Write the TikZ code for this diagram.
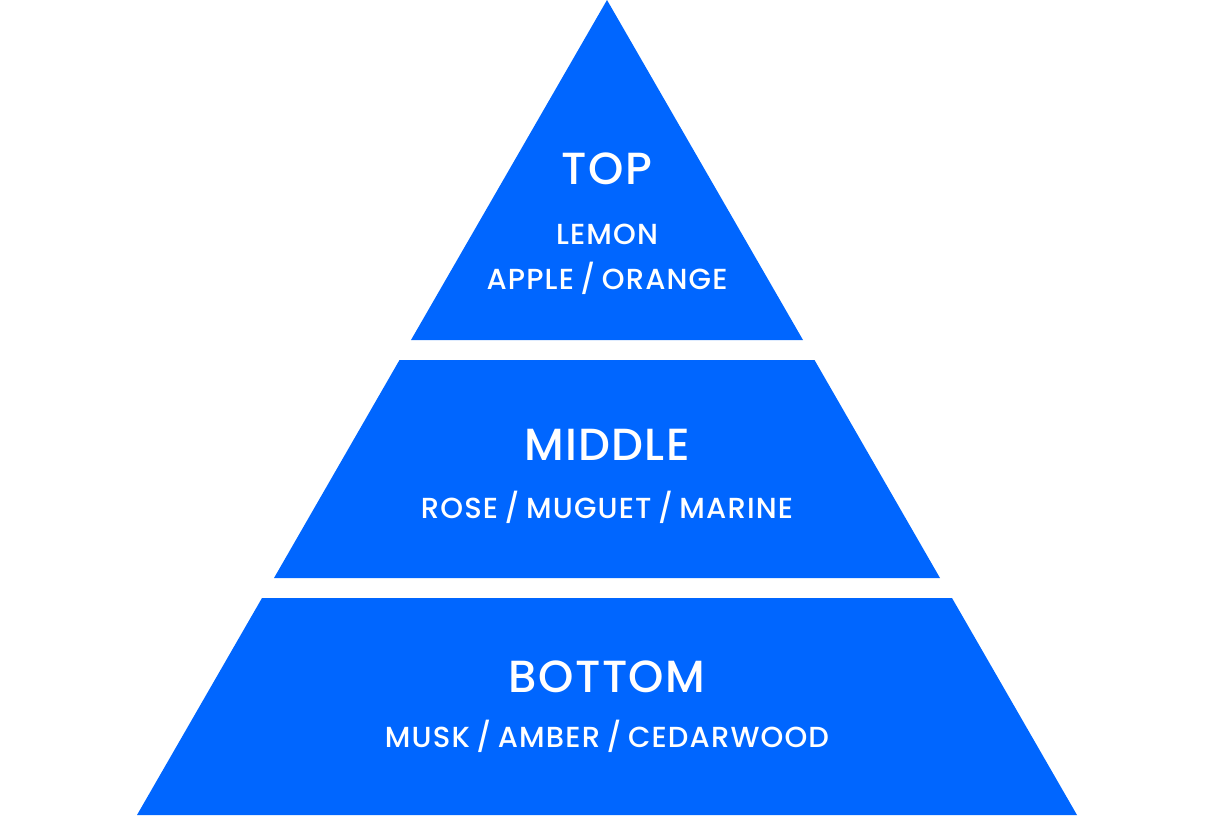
\documentclass[tikz,border=0pt]{standalone}
\usepackage{fontspec}
\setmainfont{Poppins}[UprightFont={* Medium}]
\newfontfamily\headfont{Poppins}[UprightFont={* Medium},LetterSpace=3]
\newfontfamily\notesfont{Poppins}[UprightFont={* Medium},LetterSpace=4,WordSpace=0.75]
\usetikzlibrary{positioning}
\definecolor{PyBlue}{HTML}{0066FF}
\tikzset{
  layer/.style={fill=PyBlue,draw=none},
  tierhead/.style={text=white,anchor=base,inner sep=0pt,
    font=\headfont\fontsize{45}{50}\selectfont},
  notes/.style={text=white,anchor=base,inner sep=0pt,
    font=\notesfont\fontsize{29}{33}\selectfont},
}
\begin{document}
\begin{tikzpicture}[x=1pt,y=-1pt]
    \useasboundingbox (0,0) rectangle (1215,815);
    % pyramid: one triangle cut by two white bands
    \fill[layer] (607,0) -- (803,340) -- (411,340) -- cycle;
    \fill[layer] (399.5,360) -- (814.5,360) -- (940,578) -- (274,578) -- cycle;
    \fill[layer] (262,598) -- (952,598) -- (1077,815) -- (137,815) -- cycle;

    \node[tierhead] (top) at (607,184) {TOP};
    \node[notes] (topnotes1) at (607,244) {LEMON};
    \node[notes] (topnotes2) at (607,289) {APPLE / ORANGE};

    \node[tierhead] (middle) at (607,460) {MIDDLE};
    \node[notes] (midnotes) at (607,518) {ROSE / MUGUET / MARINE};

    \node[tierhead] (bottom) at (607,692) {BOTTOM};
    \node[notes] (botnotes) at (607,747) {MUSK / AMBER / CEDARWOOD};
\end{tikzpicture}
\end{document}
